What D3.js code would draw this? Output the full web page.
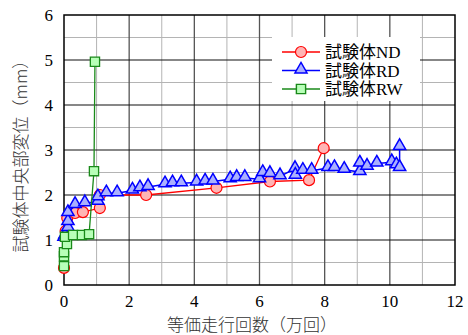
<!DOCTYPE html>
<html>
<head>
<meta charset="utf-8">
<script src="https://cdn.jsdelivr.net/npm/d3@7"></script>
<style>
body { margin: 0; background: white; }
text { font-family: "Liberation Serif", "Noto Sans CJK JP", serif; }
</style>
</head>
<body>
<div id="chart"></div>
<script>
// data
let ndX = [0, 0.05, 0.1, 0.34, 0.58, 1.1, 1.1, 2.52, 4.68, 6.32, 7.52, 7.97];
let ndY = [0.38, 1.2, 1.49, 1.6, 1.62, 1.71, 2.0, 2.0, 2.16, 2.3, 2.33, 3.04];

let rdX = [0, 0.03, 0.12, 0.12, 0.12, 0.34, 0.64, 1.04, 1.04, 1.3, 1.63, 2.1, 2.33, 2.58, 3.1, 3.33, 3.6, 4.07, 4.33, 4.57, 5.1, 5.3, 5.55, 6.0, 6.1, 6.32, 6.63, 7.09, 7.1, 7.33, 7.6, 8.1, 8.3, 8.6, 9.08, 9.08, 9.3, 9.6, 10.06, 10.2, 10.3, 10.3];
let rdY = [1.05, 1.1, 1.27, 1.4, 1.6, 1.78, 1.82, 1.85, 1.95, 2.04, 2.04, 2.1, 2.15, 2.18, 2.24, 2.26, 2.26, 2.28, 2.3, 2.3, 2.35, 2.38, 2.38, 2.35, 2.49, 2.47, 2.42, 2.58, 2.43, 2.54, 2.54, 2.6, 2.6, 2.56, 2.51, 2.7, 2.63, 2.7, 2.73, 2.66, 2.6, 3.07];

let rwX = [0, 0, 0, 0.09, 0.03, 0.28, 0.55, 0.77, 0.92, 0.95];
let rwY = [0.42, 0.64, 0.73, 0.91, 1.07, 1.11, 1.11, 1.13, 2.53, 4.96];

let xTicks = [0, 2, 4, 6, 8, 10, 12];
let yTicks = [0, 1, 2, 3, 4, 5, 6];
let seriesNames = ['試験体ND', '試験体RD', '試験体RW'];

let W = 468, H = 335;
let m = {left: 64, right: 13, top: 15, bottom: 50};

let svg = d3.select('#chart').append('svg')
    .attr('width', W).attr('height', H);

let x = d3.scaleLinear().domain([0, 12]).range([m.left, W - m.right]);
let y = d3.scaleLinear().domain([0, 6]).range([H - m.bottom, m.top]);

let g = svg.append('g');

// minor grid
g.selectAll('.vminor').data(d3.range(1, 12, 2)).join('line')
    .attr('x1', d => x(d)).attr('x2', d => x(d))
    .attr('y1', y(0)).attr('y2', y(6))
    .attr('stroke', '#b4b4b4').attr('stroke-width', 1);
g.selectAll('.hminor').data(d3.range(0.5, 6, 1)).join('line')
    .attr('y1', d => y(d)).attr('y2', d => y(d))
    .attr('x1', x(0)).attr('x2', x(12))
    .attr('stroke', '#b4b4b4').attr('stroke-width', 1);
// major grid
g.selectAll('.vmajor').data(xTicks.slice(1, -1)).join('line')
    .attr('x1', d => x(d)).attr('x2', d => x(d))
    .attr('y1', y(0)).attr('y2', y(6))
    .attr('stroke', '#555').attr('stroke-width', 1.3);
g.selectAll('.hmajor').data(yTicks.slice(1, -1)).join('line')
    .attr('y1', d => y(d)).attr('y2', d => y(d))
    .attr('x1', x(0)).attr('x2', x(12))
    .attr('stroke', '#111').attr('stroke-width', 1.2);

// frame
svg.append('rect')
    .attr('x', x(0)).attr('y', y(6))
    .attr('width', x(12) - x(0)).attr('height', y(0) - y(6))
    .attr('fill', 'none').attr('stroke', 'black').attr('stroke-width', 1.5);

// tick labels
svg.selectAll('.xl').data(xTicks).join('text')
    .attr('x', d => x(d)).attr('y', y(0) + 22)
    .attr('text-anchor', 'middle').attr('font-size', 17)
    .text(d => d);
svg.selectAll('.yl').data(yTicks).join('text')
    .attr('x', x(0) - 11).attr('y', d => y(d) + 6)
    .attr('text-anchor', 'end').attr('font-size', 17)
    .text(d => d);

// axis titles
svg.append('text')
    .attr('x', 252).attr('y', 331)
    .attr('text-anchor', 'middle').attr('font-size', 17)
    .attr('fill', '#333')
    .style('font-family', '"Noto Sans CJK JP"').style('font-weight', 300)
    .text('等価走行回数（万回）');
svg.append('text')
    .attr('transform', 'translate(27,' + (y(3) + 2) + ') rotate(-90)')
    .attr('text-anchor', 'middle').attr('font-size', 17)
    .attr('fill', '#333')
    .style('font-family', '"Noto Sans CJK JP"').style('font-weight', 300)
    .text('試験体中央部変位（mm）');

let line = d3.line().x(d => x(d[0])).y(d => y(d[1]));
let tri = d3.symbol().type(d3.symbolTriangle).size(65);
let sq = d3.symbol().type(d3.symbolSquare).size(85);

let nd = d3.zip(ndX, ndY), rd = d3.zip(rdX, rdY), rw = d3.zip(rwX, rwY);

// ND
svg.append('path').datum(nd).attr('d', line)
    .attr('fill', 'none').attr('stroke', 'red').attr('stroke-width', 1.3);
svg.selectAll('.nd').data(nd).join('circle')
    .attr('cx', d => x(d[0])).attr('cy', d => y(d[1])).attr('r', 5.5)
    .attr('fill', '#ffb4b4').attr('stroke', 'red').attr('stroke-width', 1.2);

// RD
svg.append('path').datum(rd).attr('d', line)
    .attr('fill', 'none').attr('stroke', 'blue').attr('stroke-width', 1.5);
svg.selectAll('.rd').data(rd).join('path')
    .attr('transform', d => 'translate(' + x(d[0]) + ',' + (y(d[1]) - 1) + ')')
    .attr('d', tri)
    .attr('fill', '#aab0ff').attr('stroke', 'blue').attr('stroke-width', 1.5);

// RW
svg.append('path').datum(rw).attr('d', line)
    .attr('fill', 'none').attr('stroke', '#1a8a1a').attr('stroke-width', 1.3);
svg.selectAll('.rw').data(rw).join('path')
    .attr('transform', d => 'translate(' + x(d[0]) + ',' + y(d[1]) + ')')
    .attr('d', sq)
    .attr('fill', '#b8ffb8').attr('stroke', '#1a8a1a').attr('stroke-width', 1.3);

// legend
let lg = svg.append('g');
lg.append('rect').attr('x', 272).attr('y', 37).attr('width', 148).attr('height', 64)
    .attr('fill', 'white');
let colors = ['red', 'blue', '#1a8a1a'];
let fills = ['#ffb4b4', '#aab0ff', '#b8ffb8'];
let rows = lg.selectAll('.row').data(seriesNames).join('g')
    .attr('transform', (d, i) => 'translate(0,' + (52 + i * 18.5) + ')');
rows.append('line').attr('x1', 282).attr('x2', 320)
    .attr('stroke', (d, i) => colors[i]).attr('stroke-width', 1.4);
rows.each(function(d, i) {
    let r = d3.select(this);
    if (i == 0) {
        r.append('circle').attr('cx', 301).attr('cy', 0).attr('r', 5.5)
            .attr('fill', fills[0]).attr('stroke', colors[0]).attr('stroke-width', 1.2);
    } else {
        r.append('path').attr('transform', 'translate(301,' + (i == 1 ? -1 : 0) + ')')
            .attr('d', i == 1 ? tri : sq)
            .attr('fill', fills[i]).attr('stroke', colors[i]).attr('stroke-width', 1.4);
    }
});
rows.append('text').attr('x', 325).attr('y', 6).attr('font-size', 17)
    .text(d => d);
</script>
</body>
</html>
